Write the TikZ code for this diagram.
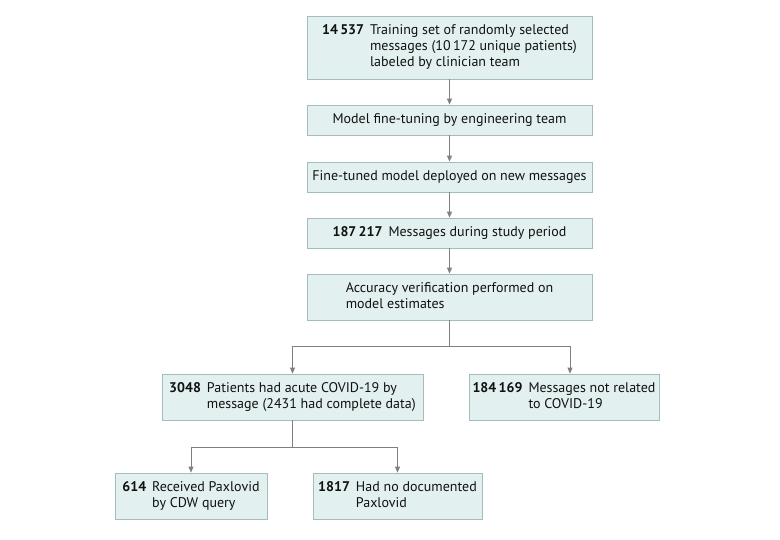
\documentclass[tikz,border=0pt]{standalone}
\usepackage{fontspec}
\setmainfont{PT Sans}
\usetikzlibrary{arrows.meta}
\definecolor{boxfill}{HTML}{E3F0F0}
\definecolor{boxdraw}{HTML}{A3BCBD}
\definecolor{linegray}{HTML}{7F7F7F}
\definecolor{txt}{HTML}{111111}
\newcommand{\numtxt}[2]{\begin{tabular}{@{}l@{\hspace{6pt}}l@{}}\textbf{#1} & #2\end{tabular}}
\begin{document}
\begin{tikzpicture}[x=1pt,y=-1pt,
  fbox/.style={draw=boxdraw,fill=boxfill,line width=0.8pt,rectangle,inner sep=0pt,
    text=txt,font=\fontsize{14}{16.5}\selectfont,align=left},
  link/.style={draw=linegray,line width=0.8pt},
  arr/.style={link,-{Triangle[length=6pt,width=5pt]}}]
\useasboundingbox (0,0) rectangle (780,539);
\renewcommand{\arraystretch}{0.98}
\node[fbox,minimum width=285pt,minimum height=63pt] (b1) at (449.5,47.5)
  {\numtxt{14\,537}{Training set of randomly selected\\ & messages (10\,172 unique patients)\\ & labeled by clinician team}};
\node[fbox,minimum width=285pt,minimum height=30pt] (b2) at (449.5,120)
  {Model fine-tuning by engineering team};
\node[fbox,minimum width=285pt,minimum height=30pt] (b3) at (449.5,177)
  {Fine-tuned model deployed on new messages};
\node[fbox,minimum width=285pt,minimum height=30pt] (b4) at (449.5,233)
  {\numtxt{187\,217}{Messages during study period}};
\node[fbox,minimum width=285pt,minimum height=46pt] (b5) at (449.5,297)
  {\begin{tabular}{@{}l@{}}Accuracy verification performed on\\ model estimates\end{tabular}};
\node[fbox,minimum width=261pt,minimum height=46pt] (b6) at (292.5,397)
  {\numtxt{3048}{Patients had acute COVID-19 by\\ & message (2431 had complete data)}};
\node[fbox,minimum width=190pt,minimum height=46pt] (b7) at (564,397)
  {\numtxt{184\,169}{Messages not related\\ & to COVID-19}};
\node[fbox,minimum width=152pt,minimum height=46pt] (b8) at (191,496)
  {\numtxt{614}{Received Paxlovid\\ & by CDW query}};
\node[fbox,minimum width=169pt,minimum height=46pt] (b9) at (397.5,496)
  {\numtxt{1817}{Had no documented\\ & Paxlovid}};
\draw[arr] (b1.south) -- (b2.north);
\draw[arr] (b2.south) -- (b3.north);
\draw[arr] (b3.south) -- (b4.north);
\draw[arr] (b4.south) -- (b5.north);
\coordinate (j1) at (449.5,346);
\coordinate (t7) at ([xshift=6pt]b7.north);
\draw[link] (b5.south) -- (j1);
\draw[arr] (j1) -| (b6.north);
\draw[arr] (j1) -| (t7);
\coordinate (j2) at (292.5,447);
\draw[link] (b6.south) -- (j2);
\draw[arr] (j2) -| (b8.north);
\draw[arr] (j2) -| (b9.north);
\end{tikzpicture}
\end{document}
